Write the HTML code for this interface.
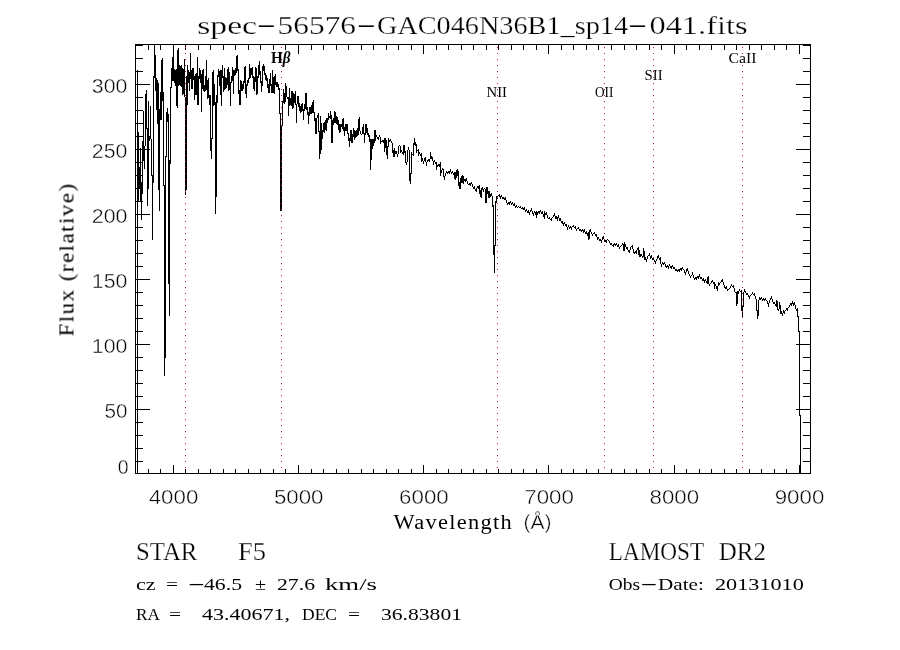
<!DOCTYPE html>
<html lang="en">
<head>
<meta charset="utf-8">
<title>spec-56576-GAC046N36B1_sp14-041.fits</title>
<style>
html,body{margin:0;padding:0;background:#fff;}
body{width:900px;height:650px;overflow:hidden;}
svg{display:block;}
text{fill:#000;white-space:pre;}
.thin{stroke:#fff;stroke-width:0.42px;}
.t2{stroke:#fff;stroke-width:0.25px;}
</style>
</head>
<body>
<svg width="900" height="650" viewBox="0 0 900 650">
<rect width="900" height="650" fill="#fff"/>
<path shape-rendering="crispEdges" fill="#000" d="M135 44h676v1h-676zM135 473h676v1h-676zM135 44h1v430h-1zM810 44h1v430h-1zM148 469h1v4h-1zM148 45h1v5h-1zM160 469h1v4h-1zM160 45h1v5h-1zM173 465h1v8h-1zM173 45h1v9h-1zM185 469h1v4h-1zM185 45h1v5h-1zM198 469h1v4h-1zM198 45h1v5h-1zM210 469h1v4h-1zM210 45h1v5h-1zM223 469h1v4h-1zM223 45h1v5h-1zM235 469h1v4h-1zM235 45h1v5h-1zM248 469h1v4h-1zM248 45h1v5h-1zM260 469h1v4h-1zM260 45h1v5h-1zM273 469h1v4h-1zM273 45h1v5h-1zM285 469h1v4h-1zM285 45h1v5h-1zM298 465h1v8h-1zM298 45h1v9h-1zM311 469h1v4h-1zM311 45h1v5h-1zM323 469h1v4h-1zM323 45h1v5h-1zM336 469h1v4h-1zM336 45h1v5h-1zM348 469h1v4h-1zM348 45h1v5h-1zM361 469h1v4h-1zM361 45h1v5h-1zM373 469h1v4h-1zM373 45h1v5h-1zM386 469h1v4h-1zM386 45h1v5h-1zM398 469h1v4h-1zM398 45h1v5h-1zM411 469h1v4h-1zM411 45h1v5h-1zM423 465h1v8h-1zM423 45h1v9h-1zM436 469h1v4h-1zM436 45h1v5h-1zM448 469h1v4h-1zM448 45h1v5h-1zM461 469h1v4h-1zM461 45h1v5h-1zM473 469h1v4h-1zM473 45h1v5h-1zM486 469h1v4h-1zM486 45h1v5h-1zM498 469h1v4h-1zM498 45h1v5h-1zM511 469h1v4h-1zM511 45h1v5h-1zM523 469h1v4h-1zM523 45h1v5h-1zM536 469h1v4h-1zM536 45h1v5h-1zM548 465h1v8h-1zM548 45h1v9h-1zM561 469h1v4h-1zM561 45h1v5h-1zM573 469h1v4h-1zM573 45h1v5h-1zM586 469h1v4h-1zM586 45h1v5h-1zM598 469h1v4h-1zM598 45h1v5h-1zM611 469h1v4h-1zM611 45h1v5h-1zM624 469h1v4h-1zM624 45h1v5h-1zM636 469h1v4h-1zM636 45h1v5h-1zM649 469h1v4h-1zM649 45h1v5h-1zM661 469h1v4h-1zM661 45h1v5h-1zM674 465h1v8h-1zM674 45h1v9h-1zM686 469h1v4h-1zM686 45h1v5h-1zM699 469h1v4h-1zM699 45h1v5h-1zM711 469h1v4h-1zM711 45h1v5h-1zM724 469h1v4h-1zM724 45h1v5h-1zM736 469h1v4h-1zM736 45h1v5h-1zM749 469h1v4h-1zM749 45h1v5h-1zM761 469h1v4h-1zM761 45h1v5h-1zM774 469h1v4h-1zM774 45h1v5h-1zM786 469h1v4h-1zM786 45h1v5h-1zM799 465h1v8h-1zM799 45h1v9h-1zM136 461h7v1h-7zM803 461h7v1h-7zM136 448h7v1h-7zM803 448h7v1h-7zM136 435h7v1h-7zM803 435h7v1h-7zM136 422h7v1h-7zM803 422h7v1h-7zM136 409h14v1h-14zM796 409h14v1h-14zM136 396h7v1h-7zM803 396h7v1h-7zM136 383h7v1h-7zM803 383h7v1h-7zM136 370h7v1h-7zM803 370h7v1h-7zM136 357h7v1h-7zM803 357h7v1h-7zM136 344h14v1h-14zM796 344h14v1h-14zM136 331h7v1h-7zM803 331h7v1h-7zM136 318h7v1h-7zM803 318h7v1h-7zM136 305h7v1h-7zM803 305h7v1h-7zM136 292h7v1h-7zM803 292h7v1h-7zM136 279h14v1h-14zM796 279h14v1h-14zM136 266h7v1h-7zM803 266h7v1h-7zM136 253h7v1h-7zM803 253h7v1h-7zM136 240h7v1h-7zM803 240h7v1h-7zM136 227h7v1h-7zM803 227h7v1h-7zM136 214h14v1h-14zM796 214h14v1h-14zM136 201h7v1h-7zM803 201h7v1h-7zM136 188h7v1h-7zM803 188h7v1h-7zM136 175h7v1h-7zM803 175h7v1h-7zM136 162h7v1h-7zM803 162h7v1h-7zM136 149h14v1h-14zM796 149h14v1h-14zM136 136h7v1h-7zM803 136h7v1h-7zM136 123h7v1h-7zM803 123h7v1h-7zM136 110h7v1h-7zM803 110h7v1h-7zM136 97h7v1h-7zM803 97h7v1h-7zM136 84h14v1h-14zM796 84h14v1h-14zM136 71h7v1h-7zM803 71h7v1h-7zM136 58h7v1h-7zM803 58h7v1h-7zM136 45h7v1h-7zM803 45h7v1h-7zM137 70h1v404h-1zM138 132h1v70h-1zM139 167h1v21h-1zM140 148h1v54h-1zM141 182h1v38h-1zM142 141h1v53h-1zM143 111h1v50h-1zM144 146h1v23h-1zM145 94h1v52h-1zM146 90h1v39h-1zM147 128h1v78h-1zM148 101h1v88h-1zM149 136h1v5h-1zM150 106h1v33h-1zM151 139h1v37h-1zM152 175h1v65h-1zM153 76h1v107h-1zM154 44h1v34h-1zM155 55h1v36h-1zM156 78h1v32h-1zM157 80h1v44h-1zM158 83h1v107h-1zM159 109h1v102h-1zM160 92h1v28h-1zM161 60h1v60h-1zM162 58h1v43h-1zM163 92h1v94h-1zM164 185h1v191h-1zM165 156h1v202h-1zM166 112h1v45h-1zM167 108h1v14h-1zM168 114h1v170h-1zM169 160h1v156h-1zM170 87h1v77h-1zM171 68h1v20h-1zM172 57h1v24h-1zM173 44h1v37h-1zM174 69h1v14h-1zM175 70h1v16h-1zM176 69h1v37h-1zM177 50h1v58h-1zM178 48h1v38h-1zM179 65h1v20h-1zM180 66h1v20h-1zM181 65h1v22h-1zM182 68h1v27h-1zM183 69h1v25h-1zM184 59h1v38h-1zM185 97h1v98h-1zM186 76h1v114h-1zM187 65h1v40h-1zM188 70h1v13h-1zM189 72h1v19h-1zM190 53h1v26h-1zM191 70h1v19h-1zM192 68h1v21h-1zM193 68h1v12h-1zM194 76h1v24h-1zM195 74h1v21h-1zM196 73h1v22h-1zM197 57h1v48h-1zM198 76h1v29h-1zM199 68h1v11h-1zM200 70h1v13h-1zM201 74h1v38h-1zM202 70h1v19h-1zM203 69h1v22h-1zM204 85h1v7h-1zM205 76h1v15h-1zM206 60h1v30h-1zM207 80h1v19h-1zM208 78h1v20h-1zM209 95h1v10h-1zM210 95h1v56h-1zM211 138h1v21h-1zM212 72h1v67h-1zM213 70h1v36h-1zM214 84h1v21h-1zM215 102h1v112h-1zM216 95h1v102h-1zM217 75h1v28h-1zM218 69h1v8h-1zM219 71h1v15h-1zM220 70h1v25h-1zM221 70h1v36h-1zM222 65h1v13h-1zM223 76h1v16h-1zM224 68h1v22h-1zM225 77h1v12h-1zM226 78h1v10h-1zM227 69h1v16h-1zM228 67h1v24h-1zM229 72h1v18h-1zM230 82h1v24h-1zM231 76h1v7h-1zM232 67h1v14h-1zM233 70h1v24h-1zM234 70h1v6h-1zM235 68h1v7h-1zM236 56h1v17h-1zM237 55h1v16h-1zM238 69h1v25h-1zM239 90h1v15h-1zM240 80h1v25h-1zM241 81h1v10h-1zM242 84h1v7h-1zM243 81h1v8h-1zM244 67h1v16h-1zM245 66h1v28h-1zM246 84h1v14h-1zM247 80h1v6h-1zM248 78h1v5h-1zM249 64h1v15h-1zM250 68h1v10h-1zM251 68h1v7h-1zM252 67h1v11h-1zM253 76h1v13h-1zM254 77h1v14h-1zM255 67h1v15h-1zM256 68h1v27h-1zM257 76h1v18h-1zM258 65h1v13h-1zM259 61h1v14h-1zM260 71h1v12h-1zM261 81h1v11h-1zM262 66h1v20h-1zM263 64h1v7h-1zM264 66h1v9h-1zM265 73h1v7h-1zM266 75h1v6h-1zM267 78h1v10h-1zM268 84h1v9h-1zM269 79h1v14h-1zM270 73h1v13h-1zM271 84h1v9h-1zM272 70h1v23h-1zM273 77h1v16h-1zM274 76h1v18h-1zM275 74h1v11h-1zM276 82h1v5h-1zM277 82h1v5h-1zM278 84h1v6h-1zM279 88h1v26h-1zM280 113h1v98h-1zM281 125h1v86h-1zM282 101h1v25h-1zM283 89h1v14h-1zM284 93h1v11h-1zM285 83h1v19h-1zM286 86h1v11h-1zM287 97h1v2h-1zM288 97h1v19h-1zM289 88h1v18h-1zM290 98h1v7h-1zM291 91h1v15h-1zM292 91h1v18h-1zM293 93h1v15h-1zM294 94h1v9h-1zM295 91h1v14h-1zM296 104h1v19h-1zM297 96h1v8h-1zM298 96h1v11h-1zM299 103h1v8h-1zM300 106h1v7h-1zM301 104h1v8h-1zM302 103h1v8h-1zM303 109h1v11h-1zM304 104h1v7h-1zM305 93h1v16h-1zM306 93h1v17h-1zM307 107h1v8h-1zM308 112h1v12h-1zM309 107h1v9h-1zM310 107h1v7h-1zM311 105h1v9h-1zM312 102h1v11h-1zM313 100h1v13h-1zM314 112h1v9h-1zM315 118h1v16h-1zM316 118h1v16h-1zM317 115h1v3h-1zM318 113h1v19h-1zM319 131h1v28h-1zM320 116h1v38h-1zM321 123h1v27h-1zM322 130h1v9h-1zM323 123h1v9h-1zM324 122h1v11h-1zM325 120h1v10h-1zM326 118h1v13h-1zM327 118h1v5h-1zM328 113h1v7h-1zM329 116h1v2h-1zM330 111h1v8h-1zM331 115h1v28h-1zM332 120h1v23h-1zM333 118h1v7h-1zM334 111h1v12h-1zM335 112h1v11h-1zM336 116h1v8h-1zM337 117h1v8h-1zM338 120h1v10h-1zM339 124h1v9h-1zM340 124h1v8h-1zM341 124h1v3h-1zM342 119h1v10h-1zM343 118h1v13h-1zM344 127h1v9h-1zM345 124h1v7h-1zM346 124h1v7h-1zM347 124h1v10h-1zM348 133h1v8h-1zM349 138h1v9h-1zM350 130h1v11h-1zM351 130h1v13h-1zM352 134h1v9h-1zM353 128h1v9h-1zM354 130h1v10h-1zM355 131h1v7h-1zM356 130h1v7h-1zM357 128h1v8h-1zM358 119h1v16h-1zM359 117h1v14h-1zM360 131h1v3h-1zM361 134h1v1h-1zM362 127h1v7h-1zM363 124h1v10h-1zM364 133h1v10h-1zM365 124h1v11h-1zM366 124h1v9h-1zM367 128h1v7h-1zM368 133h1v4h-1zM369 135h1v7h-1zM370 139h1v31h-1zM371 139h1v21h-1zM372 139h1v10h-1zM373 139h1v7h-1zM374 130h1v13h-1zM375 130h1v11h-1zM376 135h1v2h-1zM377 137h1v2h-1zM378 137h1v3h-1zM379 135h1v2h-1zM380 137h1v7h-1zM381 141h1v1h-1zM382 140h1v2h-1zM383 140h1v3h-1zM384 138h1v14h-1zM385 138h1v10h-1zM386 140h1v15h-1zM387 146h1v13h-1zM388 138h1v9h-1zM389 140h1v2h-1zM390 139h1v2h-1zM391 141h1v2h-1zM392 143h1v10h-1zM393 150h1v7h-1zM394 148h1v9h-1zM395 151h1v3h-1zM396 151h1v3h-1zM397 154h1v3h-1zM398 146h1v8h-1zM399 145h1v1h-1zM400 146h1v7h-1zM401 150h1v2h-1zM402 152h1v2h-1zM403 145h1v10h-1zM404 145h1v8h-1zM405 151h1v12h-1zM406 162h1v3h-1zM407 150h1v12h-1zM408 147h1v3h-1zM409 150h1v31h-1zM410 173h1v11h-1zM411 152h1v22h-1zM412 154h1v1h-1zM413 143h1v13h-1zM414 138h1v7h-1zM415 142h1v4h-1zM416 144h1v9h-1zM417 150h1v1h-1zM418 149h1v7h-1zM419 152h1v2h-1zM420 154h1v2h-1zM421 153h1v9h-1zM422 158h1v3h-1zM423 161h1v3h-1zM424 158h1v3h-1zM425 157h1v5h-1zM426 162h1v4h-1zM427 160h1v2h-1zM428 159h1v2h-1zM429 159h1v3h-1zM430 152h1v7h-1zM431 156h1v3h-1zM432 157h1v4h-1zM433 161h1v4h-1zM434 160h1v2h-1zM435 162h1v2h-1zM436 162h1v8h-1zM437 165h1v2h-1zM438 164h1v2h-1zM439 164h1v3h-1zM440 162h1v14h-1zM441 170h1v3h-1zM442 168h1v2h-1zM443 169h1v8h-1zM444 176h1v4h-1zM445 173h1v3h-1zM446 171h1v2h-1zM447 172h1v2h-1zM448 171h1v2h-1zM449 171h1v3h-1zM450 169h1v3h-1zM451 172h1v2h-1zM452 171h1v2h-1zM453 173h1v2h-1zM454 172h1v7h-1zM455 172h1v8h-1zM456 170h1v8h-1zM457 169h1v7h-1zM458 171h1v15h-1zM459 182h1v7h-1zM460 178h1v11h-1zM461 176h1v7h-1zM462 175h1v8h-1zM463 176h1v8h-1zM464 179h1v2h-1zM465 179h1v3h-1zM466 178h1v3h-1zM467 181h1v3h-1zM468 184h1v1h-1zM469 183h1v2h-1zM470 183h1v3h-1zM471 182h1v2h-1zM472 184h1v3h-1zM473 187h1v2h-1zM474 186h1v3h-1zM475 189h1v2h-1zM476 188h1v4h-1zM477 186h1v2h-1zM478 186h1v3h-1zM479 185h1v9h-1zM480 190h1v7h-1zM481 188h1v10h-1zM482 187h1v3h-1zM483 189h1v3h-1zM484 188h1v1h-1zM485 189h1v14h-1zM486 187h1v16h-1zM487 187h1v7h-1zM488 191h1v7h-1zM489 191h1v7h-1zM490 194h1v3h-1zM491 193h1v3h-1zM492 196h1v11h-1zM493 205h1v50h-1zM494 245h1v28h-1zM495 201h1v45h-1zM496 196h1v7h-1zM497 196h1v3h-1zM498 195h1v1h-1zM499 194h1v3h-1zM500 196h1v3h-1zM501 195h1v2h-1zM502 197h1v2h-1zM503 197h1v2h-1zM504 198h1v2h-1zM505 197h1v3h-1zM506 200h1v3h-1zM507 203h1v2h-1zM508 202h1v2h-1zM509 202h1v3h-1zM510 201h1v2h-1zM511 203h1v2h-1zM512 202h1v2h-1zM513 204h1v2h-1zM514 203h1v3h-1zM515 206h1v2h-1zM516 205h1v2h-1zM517 207h1v1h-1zM518 206h1v1h-1zM519 207h1v1h-1zM520 206h1v2h-1zM521 208h1v1h-1zM522 207h1v2h-1zM523 208h1v2h-1zM524 207h1v3h-1zM525 210h1v2h-1zM526 209h1v2h-1zM527 211h1v2h-1zM528 210h1v3h-1zM529 212h1v3h-1zM530 210h1v2h-1zM531 208h1v3h-1zM532 211h1v3h-1zM533 213h1v3h-1zM534 211h1v2h-1zM535 212h1v3h-1zM536 211h1v7h-1zM537 212h1v3h-1zM538 211h1v2h-1zM539 211h1v3h-1zM540 210h1v2h-1zM541 212h1v2h-1zM542 211h1v3h-1zM543 214h1v3h-1zM544 211h1v8h-1zM545 213h1v2h-1zM546 212h1v3h-1zM547 215h1v3h-1zM548 218h1v1h-1zM549 217h1v2h-1zM550 219h1v1h-1zM551 218h1v3h-1zM552 217h1v1h-1zM553 215h1v2h-1zM554 213h1v3h-1zM555 216h1v3h-1zM556 216h1v3h-1zM557 217h1v4h-1zM558 215h1v3h-1zM559 218h1v3h-1zM560 218h1v3h-1zM561 221h1v2h-1zM562 221h1v3h-1zM563 223h1v3h-1zM564 222h1v2h-1zM565 224h1v2h-1zM566 224h1v3h-1zM567 227h1v3h-1zM568 225h1v2h-1zM569 227h1v2h-1zM570 226h1v2h-1zM571 227h1v3h-1zM572 226h1v1h-1zM573 225h1v2h-1zM574 227h1v1h-1zM575 226h1v3h-1zM576 229h1v2h-1zM577 228h1v1h-1zM578 227h1v2h-1zM579 229h1v2h-1zM580 229h1v2h-1zM581 230h1v2h-1zM582 229h1v2h-1zM583 230h1v3h-1zM584 229h1v3h-1zM585 232h1v2h-1zM586 231h1v3h-1zM587 233h1v3h-1zM588 232h1v8h-1zM589 230h1v9h-1zM590 229h1v3h-1zM591 232h1v2h-1zM592 234h1v2h-1zM593 233h1v1h-1zM594 232h1v2h-1zM595 234h1v2h-1zM596 234h1v3h-1zM597 237h1v3h-1zM598 237h1v2h-1zM599 239h1v2h-1zM600 239h1v2h-1zM601 240h1v3h-1zM602 237h1v3h-1zM603 236h1v3h-1zM604 239h1v3h-1zM605 240h1v2h-1zM606 240h1v3h-1zM607 239h1v1h-1zM608 240h1v1h-1zM609 241h1v2h-1zM610 243h1v2h-1zM611 243h1v2h-1zM612 245h1v1h-1zM613 244h1v3h-1zM614 243h1v2h-1zM615 244h1v2h-1zM616 243h1v2h-1zM617 245h1v2h-1zM618 244h1v3h-1zM619 247h1v2h-1zM620 246h1v1h-1zM621 245h1v1h-1zM622 243h1v2h-1zM623 244h1v7h-1zM624 242h1v9h-1zM625 244h1v3h-1zM626 247h1v2h-1zM627 247h1v3h-1zM628 250h1v2h-1zM629 250h1v3h-1zM630 247h1v3h-1zM631 246h1v1h-1zM632 245h1v4h-1zM633 249h1v4h-1zM634 252h1v2h-1zM635 251h1v2h-1zM636 250h1v4h-1zM637 248h1v2h-1zM638 247h1v8h-1zM639 250h1v7h-1zM640 254h1v3h-1zM641 254h1v2h-1zM642 256h1v2h-1zM643 248h1v9h-1zM644 251h1v9h-1zM645 257h1v3h-1zM646 259h1v3h-1zM647 256h1v3h-1zM648 255h1v1h-1zM649 253h1v3h-1zM650 256h1v3h-1zM651 255h1v3h-1zM652 258h1v2h-1zM653 257h1v3h-1zM654 260h1v2h-1zM655 261h1v3h-1zM656 259h1v2h-1zM657 256h1v3h-1zM658 255h1v3h-1zM659 258h1v2h-1zM660 257h1v7h-1zM661 264h1v3h-1zM662 262h1v2h-1zM663 263h1v2h-1zM664 262h1v2h-1zM665 264h1v3h-1zM666 266h1v2h-1zM667 265h1v2h-1zM668 266h1v3h-1zM669 264h1v2h-1zM670 266h1v2h-1zM671 266h1v3h-1zM672 265h1v2h-1zM673 267h1v2h-1zM674 267h1v2h-1zM675 269h1v2h-1zM676 269h1v2h-1zM677 270h1v2h-1zM678 269h1v2h-1zM679 269h1v3h-1zM680 268h1v2h-1zM681 268h1v3h-1zM682 267h1v2h-1zM683 269h1v1h-1zM684 270h1v3h-1zM685 272h1v3h-1zM686 269h1v3h-1zM687 268h1v3h-1zM688 271h1v3h-1zM689 274h1v2h-1zM690 276h1v2h-1zM691 275h1v1h-1zM692 272h1v3h-1zM693 275h1v3h-1zM694 278h1v2h-1zM695 277h1v2h-1zM696 277h1v3h-1zM697 276h1v2h-1zM698 276h1v3h-1zM699 274h1v3h-1zM700 277h1v2h-1zM701 277h1v2h-1zM702 279h1v2h-1zM703 278h1v3h-1zM704 280h1v3h-1zM705 279h1v2h-1zM706 281h1v2h-1zM707 277h1v7h-1zM708 276h1v8h-1zM709 284h1v2h-1zM710 283h1v1h-1zM711 281h1v2h-1zM712 280h1v2h-1zM713 282h1v2h-1zM714 282h1v7h-1zM715 284h1v2h-1zM716 286h1v3h-1zM717 286h1v5h-1zM718 282h1v4h-1zM719 283h1v2h-1zM720 282h1v1h-1zM721 280h1v2h-1zM722 279h1v3h-1zM723 282h1v3h-1zM724 285h1v3h-1zM725 287h1v2h-1zM726 286h1v3h-1zM727 289h1v2h-1zM728 289h1v1h-1zM729 288h1v1h-1zM730 286h1v2h-1zM731 284h1v2h-1zM732 286h1v1h-1zM733 285h1v3h-1zM734 288h1v4h-1zM735 292h1v1h-1zM736 292h1v14h-1zM737 291h1v13h-1zM738 291h1v3h-1zM739 289h1v2h-1zM740 291h1v1h-1zM741 290h1v21h-1zM742 306h1v12h-1zM743 292h1v15h-1zM744 289h1v3h-1zM745 291h1v2h-1zM746 293h1v2h-1zM747 293h1v2h-1zM748 295h1v2h-1zM749 296h1v3h-1zM750 295h1v1h-1zM751 294h1v1h-1zM752 292h1v2h-1zM753 294h1v1h-1zM754 293h1v3h-1zM755 296h1v3h-1zM756 299h1v12h-1zM757 310h1v9h-1zM758 300h1v16h-1zM759 297h1v3h-1zM760 298h1v2h-1zM761 297h1v2h-1zM762 299h1v2h-1zM763 298h1v2h-1zM764 299h1v2h-1zM765 298h1v2h-1zM766 300h1v1h-1zM767 301h1v3h-1zM768 303h1v4h-1zM769 300h1v3h-1zM770 298h1v2h-1zM771 296h1v3h-1zM772 299h1v3h-1zM773 302h1v2h-1zM774 302h1v2h-1zM775 304h1v2h-1zM776 300h1v7h-1zM777 301h1v9h-1zM778 309h1v2h-1zM779 302h1v7h-1zM780 305h1v9h-1zM781 311h1v3h-1zM782 313h1v3h-1zM783 310h1v3h-1zM784 311h1v3h-1zM785 310h1v1h-1zM786 308h1v2h-1zM787 308h1v3h-1zM788 307h1v1h-1zM789 305h1v2h-1zM790 303h1v2h-1zM791 303h1v3h-1zM792 301h1v3h-1zM793 303h1v3h-1zM794 302h1v3h-1zM795 305h1v4h-1zM796 309h1v2h-1zM797 308h1v9h-1zM798 316h1v16h-1zM799 331h1v85h-1zM800 415h1v59h-1z"/>
<path shape-rendering="crispEdges" fill="#c62424" d="M185 47h1v1h-1zM185 53h1v1h-1zM185 59h1v1h-1zM185 65h1v1h-1zM185 71h1v1h-1zM185 77h1v1h-1zM185 83h1v1h-1zM185 89h1v1h-1zM185 95h1v1h-1zM185 101h1v1h-1zM185 107h1v1h-1zM185 113h1v1h-1zM185 119h1v1h-1zM185 125h1v1h-1zM185 131h1v1h-1zM185 137h1v1h-1zM185 143h1v1h-1zM185 149h1v1h-1zM185 155h1v1h-1zM185 161h1v1h-1zM185 167h1v1h-1zM185 173h1v1h-1zM185 179h1v1h-1zM185 185h1v1h-1zM185 191h1v1h-1zM185 197h1v1h-1zM185 203h1v1h-1zM185 209h1v1h-1zM185 215h1v1h-1zM185 221h1v1h-1zM185 227h1v1h-1zM185 233h1v1h-1zM185 239h1v1h-1zM185 245h1v1h-1zM185 251h1v1h-1zM185 257h1v1h-1zM185 263h1v1h-1zM185 269h1v1h-1zM185 275h1v1h-1zM185 281h1v1h-1zM185 287h1v1h-1zM185 293h1v1h-1zM185 299h1v1h-1zM185 305h1v1h-1zM185 311h1v1h-1zM185 317h1v1h-1zM185 323h1v1h-1zM185 329h1v1h-1zM185 335h1v1h-1zM185 341h1v1h-1zM185 347h1v1h-1zM185 353h1v1h-1zM185 359h1v1h-1zM185 365h1v1h-1zM185 371h1v1h-1zM185 377h1v1h-1zM185 383h1v1h-1zM185 389h1v1h-1zM185 395h1v1h-1zM185 401h1v1h-1zM185 407h1v1h-1zM185 413h1v1h-1zM185 419h1v1h-1zM185 425h1v1h-1zM185 431h1v1h-1zM185 437h1v1h-1zM185 443h1v1h-1zM185 449h1v1h-1zM185 455h1v1h-1zM185 461h1v1h-1zM185 467h1v1h-1zM281 47h1v1h-1zM281 53h1v1h-1zM281 59h1v1h-1zM281 65h1v1h-1zM281 71h1v1h-1zM281 77h1v1h-1zM281 83h1v1h-1zM281 89h1v1h-1zM281 95h1v1h-1zM281 101h1v1h-1zM281 107h1v1h-1zM281 113h1v1h-1zM281 119h1v1h-1zM281 125h1v1h-1zM281 131h1v1h-1zM281 137h1v1h-1zM281 143h1v1h-1zM281 149h1v1h-1zM281 155h1v1h-1zM281 161h1v1h-1zM281 167h1v1h-1zM281 173h1v1h-1zM281 179h1v1h-1zM281 185h1v1h-1zM281 191h1v1h-1zM281 197h1v1h-1zM281 203h1v1h-1zM281 209h1v1h-1zM281 215h1v1h-1zM281 221h1v1h-1zM281 227h1v1h-1zM281 233h1v1h-1zM281 239h1v1h-1zM281 245h1v1h-1zM281 251h1v1h-1zM281 257h1v1h-1zM281 263h1v1h-1zM281 269h1v1h-1zM281 275h1v1h-1zM281 281h1v1h-1zM281 287h1v1h-1zM281 293h1v1h-1zM281 299h1v1h-1zM281 305h1v1h-1zM281 311h1v1h-1zM281 317h1v1h-1zM281 323h1v1h-1zM281 329h1v1h-1zM281 335h1v1h-1zM281 341h1v1h-1zM281 347h1v1h-1zM281 353h1v1h-1zM281 359h1v1h-1zM281 365h1v1h-1zM281 371h1v1h-1zM281 377h1v1h-1zM281 383h1v1h-1zM281 389h1v1h-1zM281 395h1v1h-1zM281 401h1v1h-1zM281 407h1v1h-1zM281 413h1v1h-1zM281 419h1v1h-1zM281 425h1v1h-1zM281 431h1v1h-1zM281 437h1v1h-1zM281 443h1v1h-1zM281 449h1v1h-1zM281 455h1v1h-1zM281 461h1v1h-1zM281 467h1v1h-1zM497 47h1v1h-1zM497 53h1v1h-1zM497 59h1v1h-1zM497 65h1v1h-1zM497 71h1v1h-1zM497 77h1v1h-1zM497 83h1v1h-1zM497 89h1v1h-1zM497 95h1v1h-1zM497 101h1v1h-1zM497 107h1v1h-1zM497 113h1v1h-1zM497 119h1v1h-1zM497 125h1v1h-1zM497 131h1v1h-1zM497 137h1v1h-1zM497 143h1v1h-1zM497 149h1v1h-1zM497 155h1v1h-1zM497 161h1v1h-1zM497 167h1v1h-1zM497 173h1v1h-1zM497 179h1v1h-1zM497 185h1v1h-1zM497 191h1v1h-1zM497 197h1v1h-1zM497 203h1v1h-1zM497 209h1v1h-1zM497 215h1v1h-1zM497 221h1v1h-1zM497 227h1v1h-1zM497 233h1v1h-1zM497 239h1v1h-1zM497 245h1v1h-1zM497 251h1v1h-1zM497 257h1v1h-1zM497 263h1v1h-1zM497 269h1v1h-1zM497 275h1v1h-1zM497 281h1v1h-1zM497 287h1v1h-1zM497 293h1v1h-1zM497 299h1v1h-1zM497 305h1v1h-1zM497 311h1v1h-1zM497 317h1v1h-1zM497 323h1v1h-1zM497 329h1v1h-1zM497 335h1v1h-1zM497 341h1v1h-1zM497 347h1v1h-1zM497 353h1v1h-1zM497 359h1v1h-1zM497 365h1v1h-1zM497 371h1v1h-1zM497 377h1v1h-1zM497 383h1v1h-1zM497 389h1v1h-1zM497 395h1v1h-1zM497 401h1v1h-1zM497 407h1v1h-1zM497 413h1v1h-1zM497 419h1v1h-1zM497 425h1v1h-1zM497 431h1v1h-1zM497 437h1v1h-1zM497 443h1v1h-1zM497 449h1v1h-1zM497 455h1v1h-1zM497 461h1v1h-1zM497 467h1v1h-1zM604 47h1v1h-1zM604 53h1v1h-1zM604 59h1v1h-1zM604 65h1v1h-1zM604 71h1v1h-1zM604 77h1v1h-1zM604 83h1v1h-1zM604 89h1v1h-1zM604 95h1v1h-1zM604 101h1v1h-1zM604 107h1v1h-1zM604 113h1v1h-1zM604 119h1v1h-1zM604 125h1v1h-1zM604 131h1v1h-1zM604 137h1v1h-1zM604 143h1v1h-1zM604 149h1v1h-1zM604 155h1v1h-1zM604 161h1v1h-1zM604 167h1v1h-1zM604 173h1v1h-1zM604 179h1v1h-1zM604 185h1v1h-1zM604 191h1v1h-1zM604 197h1v1h-1zM604 203h1v1h-1zM604 209h1v1h-1zM604 215h1v1h-1zM604 221h1v1h-1zM604 227h1v1h-1zM604 233h1v1h-1zM604 239h1v1h-1zM604 245h1v1h-1zM604 251h1v1h-1zM604 257h1v1h-1zM604 263h1v1h-1zM604 269h1v1h-1zM604 275h1v1h-1zM604 281h1v1h-1zM604 287h1v1h-1zM604 293h1v1h-1zM604 299h1v1h-1zM604 305h1v1h-1zM604 311h1v1h-1zM604 317h1v1h-1zM604 323h1v1h-1zM604 329h1v1h-1zM604 335h1v1h-1zM604 341h1v1h-1zM604 347h1v1h-1zM604 353h1v1h-1zM604 359h1v1h-1zM604 365h1v1h-1zM604 371h1v1h-1zM604 377h1v1h-1zM604 383h1v1h-1zM604 389h1v1h-1zM604 395h1v1h-1zM604 401h1v1h-1zM604 407h1v1h-1zM604 413h1v1h-1zM604 419h1v1h-1zM604 425h1v1h-1zM604 431h1v1h-1zM604 437h1v1h-1zM604 443h1v1h-1zM604 449h1v1h-1zM604 455h1v1h-1zM604 461h1v1h-1zM604 467h1v1h-1zM653 47h1v1h-1zM653 53h1v1h-1zM653 59h1v1h-1zM653 65h1v1h-1zM653 71h1v1h-1zM653 77h1v1h-1zM653 83h1v1h-1zM653 89h1v1h-1zM653 95h1v1h-1zM653 101h1v1h-1zM653 107h1v1h-1zM653 113h1v1h-1zM653 119h1v1h-1zM653 125h1v1h-1zM653 131h1v1h-1zM653 137h1v1h-1zM653 143h1v1h-1zM653 149h1v1h-1zM653 155h1v1h-1zM653 161h1v1h-1zM653 167h1v1h-1zM653 173h1v1h-1zM653 179h1v1h-1zM653 185h1v1h-1zM653 191h1v1h-1zM653 197h1v1h-1zM653 203h1v1h-1zM653 209h1v1h-1zM653 215h1v1h-1zM653 221h1v1h-1zM653 227h1v1h-1zM653 233h1v1h-1zM653 239h1v1h-1zM653 245h1v1h-1zM653 251h1v1h-1zM653 257h1v1h-1zM653 263h1v1h-1zM653 269h1v1h-1zM653 275h1v1h-1zM653 281h1v1h-1zM653 287h1v1h-1zM653 293h1v1h-1zM653 299h1v1h-1zM653 305h1v1h-1zM653 311h1v1h-1zM653 317h1v1h-1zM653 323h1v1h-1zM653 329h1v1h-1zM653 335h1v1h-1zM653 341h1v1h-1zM653 347h1v1h-1zM653 353h1v1h-1zM653 359h1v1h-1zM653 365h1v1h-1zM653 371h1v1h-1zM653 377h1v1h-1zM653 383h1v1h-1zM653 389h1v1h-1zM653 395h1v1h-1zM653 401h1v1h-1zM653 407h1v1h-1zM653 413h1v1h-1zM653 419h1v1h-1zM653 425h1v1h-1zM653 431h1v1h-1zM653 437h1v1h-1zM653 443h1v1h-1zM653 449h1v1h-1zM653 455h1v1h-1zM653 461h1v1h-1zM653 467h1v1h-1zM742 47h1v1h-1zM742 53h1v1h-1zM742 59h1v1h-1zM742 65h1v1h-1zM742 71h1v1h-1zM742 77h1v1h-1zM742 83h1v1h-1zM742 89h1v1h-1zM742 95h1v1h-1zM742 101h1v1h-1zM742 107h1v1h-1zM742 113h1v1h-1zM742 119h1v1h-1zM742 125h1v1h-1zM742 131h1v1h-1zM742 137h1v1h-1zM742 143h1v1h-1zM742 149h1v1h-1zM742 155h1v1h-1zM742 161h1v1h-1zM742 167h1v1h-1zM742 173h1v1h-1zM742 179h1v1h-1zM742 185h1v1h-1zM742 191h1v1h-1zM742 197h1v1h-1zM742 203h1v1h-1zM742 209h1v1h-1zM742 215h1v1h-1zM742 221h1v1h-1zM742 227h1v1h-1zM742 233h1v1h-1zM742 239h1v1h-1zM742 245h1v1h-1zM742 251h1v1h-1zM742 257h1v1h-1zM742 263h1v1h-1zM742 269h1v1h-1zM742 275h1v1h-1zM742 281h1v1h-1zM742 287h1v1h-1zM742 293h1v1h-1zM742 299h1v1h-1zM742 305h1v1h-1zM742 311h1v1h-1zM742 317h1v1h-1zM742 323h1v1h-1zM742 329h1v1h-1zM742 335h1v1h-1zM742 341h1v1h-1zM742 347h1v1h-1zM742 353h1v1h-1zM742 359h1v1h-1zM742 365h1v1h-1zM742 371h1v1h-1zM742 377h1v1h-1zM742 383h1v1h-1zM742 389h1v1h-1zM742 395h1v1h-1zM742 401h1v1h-1zM742 407h1v1h-1zM742 413h1v1h-1zM742 419h1v1h-1zM742 425h1v1h-1zM742 431h1v1h-1zM742 437h1v1h-1zM742 443h1v1h-1zM742 449h1v1h-1zM742 455h1v1h-1zM742 461h1v1h-1zM742 467h1v1h-1z"/>
<g opacity="0.999">
<text class="t2" font-family='"Liberation Serif", serif' font-size="25.5"><tspan x="197.3" y="33.5" textLength="59.7" lengthAdjust="spacingAndGlyphs">spec</tspan><tspan x="256.3" y="32.1" textLength="20.0" lengthAdjust="spacingAndGlyphs">-</tspan><tspan x="277.6" y="33.5" textLength="78.4" lengthAdjust="spacingAndGlyphs">56576</tspan><tspan x="356.3" y="32.1" textLength="20.0" lengthAdjust="spacingAndGlyphs">-</tspan><tspan x="377" y="33.5" textLength="251" lengthAdjust="spacingAndGlyphs">GAC046N36B1_sp14</tspan><tspan x="627.6" y="32.1" textLength="20.0" lengthAdjust="spacingAndGlyphs">-</tspan><tspan x="649.5" y="33.5" textLength="98.0" lengthAdjust="spacingAndGlyphs">041.fits</tspan></text>
<text x="148.7" y="504" class="thin" font-family='"Liberation Sans", sans-serif' font-size="19.5" textLength="49.6" lengthAdjust="spacingAndGlyphs">4000</text>
<text x="273.9" y="504" class="thin" font-family='"Liberation Sans", sans-serif' font-size="19.5" textLength="49.6" lengthAdjust="spacingAndGlyphs">5000</text>
<text x="399.1" y="504" class="thin" font-family='"Liberation Sans", sans-serif' font-size="19.5" textLength="49.6" lengthAdjust="spacingAndGlyphs">6000</text>
<text x="524.3" y="504" class="thin" font-family='"Liberation Sans", sans-serif' font-size="19.5" textLength="49.6" lengthAdjust="spacingAndGlyphs">7000</text>
<text x="649.5" y="504" class="thin" font-family='"Liberation Sans", sans-serif' font-size="19.5" textLength="49.6" lengthAdjust="spacingAndGlyphs">8000</text>
<text x="774.7" y="504" class="thin" font-family='"Liberation Sans", sans-serif' font-size="19.5" textLength="49.6" lengthAdjust="spacingAndGlyphs">9000</text>
<text x="117.8" y="474" class="thin" font-family='"Liberation Sans", sans-serif' font-size="19.5">0</text>
<text x="104.4" y="417.6" class="thin" font-family='"Liberation Sans", sans-serif' font-size="19.5" textLength="23" lengthAdjust="spacingAndGlyphs">50</text>
<text x="91.8" y="352.6" class="thin" font-family='"Liberation Sans", sans-serif' font-size="19.5" textLength="35.6" lengthAdjust="spacingAndGlyphs">100</text>
<text x="91.8" y="287.6" class="thin" font-family='"Liberation Sans", sans-serif' font-size="19.5" textLength="35.6" lengthAdjust="spacingAndGlyphs">150</text>
<text x="91.8" y="222.6" class="thin" font-family='"Liberation Sans", sans-serif' font-size="19.5" textLength="35.6" lengthAdjust="spacingAndGlyphs">200</text>
<text x="91.8" y="157.6" class="thin" font-family='"Liberation Sans", sans-serif' font-size="19.5" textLength="35.6" lengthAdjust="spacingAndGlyphs">250</text>
<text x="91.8" y="92.6" class="thin" font-family='"Liberation Sans", sans-serif' font-size="19.5" textLength="35.6" lengthAdjust="spacingAndGlyphs">300</text>
<text x="393.5" y="529.4" font-family='"Liberation Serif", serif' font-size="20.5" textLength="119.5" lengthAdjust="spacingAndGlyphs" letter-spacing="1.2">Wavelength</text>
<text x="523.6" y="529.4" class="thin" font-family='"Liberation Sans", sans-serif' font-size="19.5" textLength="28" lengthAdjust="spacingAndGlyphs">(Å)</text>
<text transform="translate(73.5 336.5) rotate(-90)" font-family='"Liberation Serif", serif' font-size="20" letter-spacing="1.2" textLength="154" lengthAdjust="spacingAndGlyphs">Flux (relative)</text>
<text x="486.6" y="96.5" font-family='"Liberation Serif", serif' font-size="15" textLength="20.4" lengthAdjust="spacingAndGlyphs">NII</text>
<text x="595" y="96.5" font-family='"Liberation Serif", serif' font-size="15" textLength="18.4" lengthAdjust="spacingAndGlyphs">OII</text>
<text x="644.6" y="79.5" font-family='"Liberation Serif", serif' font-size="15" textLength="18.0" lengthAdjust="spacingAndGlyphs">SII</text>
<text x="728.6" y="62.5" font-family='"Liberation Serif", serif' font-size="15" textLength="28.0" lengthAdjust="spacingAndGlyphs">CaII</text>
<text x="271" y="63" font-family='"Liberation Serif", serif' font-size="16.5" font-weight="bold" textLength="19.5" lengthAdjust="spacingAndGlyphs">H<tspan font-style="italic">β</tspan></text>
<text class="t2" font-family='"Liberation Serif", serif' font-size="24.5"><tspan x="136" y="560" textLength="61.4" lengthAdjust="spacingAndGlyphs">STAR</tspan> <tspan x="238" y="560" textLength="28" lengthAdjust="spacingAndGlyphs">F5</tspan></text>
<text class="t2" font-family='"Liberation Serif", serif' font-size="24.5"><tspan x="608.75" y="560" textLength="95.0" lengthAdjust="spacingAndGlyphs">LAMOST</tspan> <tspan x="718.75" y="560" textLength="47.2" lengthAdjust="spacingAndGlyphs">DR2</tspan></text>
<text font-family='"Liberation Serif", serif' font-size="16"><tspan x="136" y="589.6" textLength="19.6" lengthAdjust="spacingAndGlyphs">cz</tspan> <tspan x="166" y="589.6" textLength="12" lengthAdjust="spacingAndGlyphs">=</tspan> <tspan x="187.9" y="588.7" textLength="17.3" lengthAdjust="spacingAndGlyphs">-</tspan><tspan x="204" y="589.6" textLength="38" lengthAdjust="spacingAndGlyphs">46.5</tspan> <tspan x="255" y="589.6" textLength="11" lengthAdjust="spacingAndGlyphs">±</tspan> <tspan x="277" y="589.6" textLength="38" lengthAdjust="spacingAndGlyphs">27.6</tspan> <tspan x="325" y="589.6" textLength="52" lengthAdjust="spacingAndGlyphs">km/s</tspan></text>
<text font-family='"Liberation Serif", serif' font-size="16"><tspan x="136" y="619.6" textLength="23" lengthAdjust="spacingAndGlyphs">RA</tspan> <tspan x="169" y="619.6" textLength="12" lengthAdjust="spacingAndGlyphs">=</tspan> <tspan x="202" y="619.6" textLength="88" lengthAdjust="spacingAndGlyphs">43.40671,</tspan> <tspan x="302" y="619.6" textLength="35" lengthAdjust="spacingAndGlyphs">DEC</tspan> <tspan x="348" y="619.6" textLength="12" lengthAdjust="spacingAndGlyphs">=</tspan> <tspan x="381" y="619.6" textLength="81" lengthAdjust="spacingAndGlyphs">36.83801</tspan></text>
<text font-family='"Liberation Serif", serif' font-size="16"><tspan x="608.75" y="589.6" textLength="31.2" lengthAdjust="spacingAndGlyphs">Obs</tspan><tspan x="640.4" y="588.7" textLength="17.3" lengthAdjust="spacingAndGlyphs">-</tspan><tspan x="658" y="589.6" textLength="45.8" lengthAdjust="spacingAndGlyphs">Date:</tspan> <tspan x="715" y="589.6" textLength="88.8" lengthAdjust="spacingAndGlyphs">20131010</tspan></text>
</g>
</svg>
</body>
</html>
